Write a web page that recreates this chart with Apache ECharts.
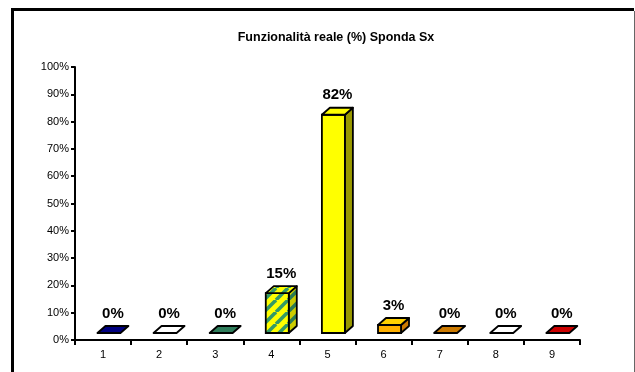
<!DOCTYPE html>
<html>
<head>
<meta charset="utf-8">
<script src="https://cdn.jsdelivr.net/npm/echarts@6/dist/echarts.min.js"></script>
<style>
html,body{margin:0;padding:0;background:#fff;}
#c{width:635px;height:372px;}
</style>
</head>
<body>
<div id="c"></div>
<script>
const titleText = 'Funzionalità reale (%) Sponda Sx';
const categories = ['1','2','3','4','5','6','7','8','9'];
const values = [0, 0, 0, 15, 82, 3, 0, 0, 0];
const yMin = 0, yMax = 100, yStep = 10;

// face colours per bar: front, top, side
const faceColors = [
  ['#000080', '#000080', '#000060'],
  ['#ffffff', '#ffffff', '#3366ff'],
  ['#2e7d5b', '#2e7d5b', '#1f5a40'],
  ['pattern', 'pattern', 'pattern'],
  ['#ffff00', '#ffff00', '#999900'],
  ['#ffb000', '#ffd000', '#cc7a00'],
  ['#cc7a00', '#cc7a00', '#995a00'],
  ['#ffffff', '#ffffff', '#ff0000'],
  ['#cc0000', '#cc0000', '#990000']
];

function stripePattern(dark) {
  const cv = document.createElement('canvas');
  cv.width = 12; cv.height = 12;
  const ctx = cv.getContext('2d');
  ctx.fillStyle = dark ? '#cccc00' : '#ffff00';
  ctx.fillRect(0, 0, 12, 12);
  ctx.strokeStyle = dark ? '#2a7a55' : '#339966';
  ctx.lineWidth = 3.5;
  for (let k = -12; k <= 24; k += 12) {
    ctx.beginPath();
    ctx.moveTo(k, 12);
    ctx.lineTo(k + 12, 0);
    ctx.stroke();
  }
  return { image: cv, repeat: 'repeat' };
}
const patFront = stripePattern(false);
const patSide = stripePattern(true);

function fill(c, side) {
  if (c === 'pattern') return side ? patSide : patFront;
  return c;
}

const chart = echarts.init(document.getElementById('c'));

const option = {
  animation: false,
  backgroundColor: '#fff',
  title: {
    text: titleText,
    left: 331,
    top: 26,
    textAlign: 'center',
    textStyle: { fontFamily: 'Liberation Sans, Arial', fontSize: 12.5, fontWeight: 'bold', color: '#000' }
  },
  graphic: [
    { type: 'line', shape: { x1: 12.5, y1: 9, x2: 12.5, y2: 372 }, style: { stroke: '#000', lineWidth: 3 }, z: 100 },
    { type: 'line', shape: { x1: 11, y1: 9.5, x2: 634, y2: 9.5 }, style: { stroke: '#000', lineWidth: 3 }, z: 100 },
    { type: 'line', shape: { x1: 634.5, y1: 11, x2: 634.5, y2: 372 }, style: { stroke: '#666', lineWidth: 1 }, z: 100 }
  ],
  grid: { left: 75, right: 55, top: 67, bottom: 32, containLabel: false },
  xAxis: {
    type: 'category',
    data: categories,
    boundaryGap: true,
    axisLine: { lineStyle: { color: '#000', width: 2 } },
    axisTick: { show: true, length: 5, lineStyle: { color: '#000', width: 2 } },
    axisLabel: { fontFamily: 'Liberation Sans, Arial', fontSize: 11, color: '#000', margin: 9 },
    splitLine: { show: false }
  },
  yAxis: {
    type: 'value',
    min: yMin, max: yMax, interval: yStep,
    axisLine: { show: true, lineStyle: { color: '#000', width: 2 } },
    axisTick: { show: true, length: 4, lineStyle: { color: '#000', width: 2 } },
    axisLabel: { fontFamily: 'Liberation Sans, Arial', fontSize: 11, color: '#000', margin: 6, formatter: '{value}%' },
    splitLine: { show: false }
  },
  series: [{
    type: 'custom',
    data: values.map((v, i) => [i, v]),
    renderItem: function (params, api) {
      const i = api.value(0);
      const v = api.value(1);
      const base = api.coord([i, 0]);
      const top = api.coord([i, v]);
      const bw = api.size([1, 0])[0];
      const shiftY = 7;
      const dx = 8, dy = 7;
      const persp = 0.975;
      const x0 = base[0] - bw * 0.1;
      const x1 = x0 + bw * 0.41;
      const yb = base[1] - shiftY;
      const yt = yb - (base[1] - top[1]) * persp;
      const cols = faceColors[i];
      const stroke = '#000';
      const lw = 1.8;
      const children = [];
      if (yb - yt > 0.5) {
        children.push({
          type: 'polygon',
          shape: { points: [[x1, yb], [x1 + dx, yb - dy], [x1 + dx, yt - dy], [x1, yt]] },
          style: { fill: fill(cols[2], true), stroke: stroke, lineWidth: lw, lineJoin: 'round' }
        });
        children.push({
          type: 'rect',
          shape: { x: x0, y: yt, width: x1 - x0, height: yb - yt },
          style: { fill: fill(cols[0], false), stroke: stroke, lineWidth: lw }
        });
      }
      children.push({
        type: 'polygon',
        shape: { points: [[x0, yt], [x0 + dx, yt - dy], [x1 + dx, yt - dy], [x1, yt]] },
        style: { fill: fill(cols[1], false), stroke: stroke, lineWidth: lw, lineJoin: 'round' }
      });
      children.push({
        type: 'text',
        style: {
          text: v + '%',
          x: (x0 + x1 + dx) / 2,
          y: yt - dy - 5,
          align: 'center',
          verticalAlign: 'bottom',
          fill: '#000',
          font: 'bold 15px "Liberation Sans", Arial'
        }
      });
      return { type: 'group', children: children };
    }
  }]
};
chart.setOption(option);
</script>
</body>
</html>
